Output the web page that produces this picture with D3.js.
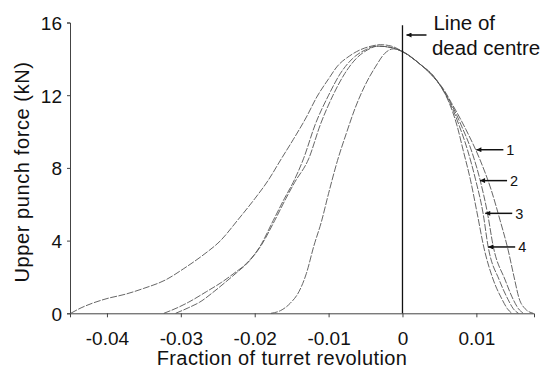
<!DOCTYPE html>
<html>
<head>
<meta charset="utf-8">
<script src="https://cdn.jsdelivr.net/npm/d3@7"></script>
<style>
  html, body { margin: 0; padding: 0; background: #fff; }
  svg { display: block; font-family: "Liberation Sans", Arial, sans-serif; }
</style>
</head>
<body>
<div id="chart"></div>
<script>
// axis ticks
const xTicks = [-0.04, -0.03, -0.02, -0.01, 0, 0.01];
const yTicks = [0, 4, 8, 12, 16];

// force traces [fraction of revolution, kN]
const curve1 = [[-0.0449,0],[-0.0435,0.3],[-0.042,0.55],[-0.040,0.81],[-0.0375,1.05],[-0.0351,1.36],[-0.032,1.85],[-0.0296,2.46],[-0.027,3.2],[-0.0246,4.01],[-0.0223,5.13],[-0.020,6.3],[-0.0182,7.3],[-0.0164,8.5],[-0.0148,9.55],[-0.013,10.8],[-0.0116,11.9],[-0.010,12.9],[-0.0088,13.6],[-0.0072,14.15],[-0.0057,14.5],[-0.004,14.72],[-0.003,14.78],[-0.0015,14.7],[0,14.4],[0.0024,13.7],[0.0042,13.0],[0.0056,12.3],[0.0066,11.6],[0.0077,10.8],[0.0086,10.1],[0.0105,8.44],[0.012,6.8],[0.0132,5.13],[0.0143,3.48],[0.0151,2.0],[0.0158,0.8],[0.0166,0.25],[0.0177,0]];
const curve2 = [[-0.0323,0],[-0.0305,0.3],[-0.029,0.6],[-0.0265,1.2],[-0.0245,1.7],[-0.0228,2.2],[-0.0211,2.75],[-0.0193,3.67],[-0.0175,5.1],[-0.016,6.3],[-0.0148,7.2],[-0.0134,8.5],[-0.0118,10.4],[-0.010,12.0],[-0.0084,13.2],[-0.0068,14.0],[-0.005,14.5],[-0.0035,14.7],[-0.002,14.65],[0,14.4],[0.0024,13.7],[0.0042,13.05],[0.0056,12.25],[0.0065,11.6],[0.008,10.3],[0.0093,8.99],[0.0105,7.34],[0.0115,5.52],[0.0123,3.65],[0.0139,1.83],[0.015,0.75],[0.0157,0.25],[0.0164,0]];
const curve3 = [[-0.0307,0],[-0.029,0.3],[-0.0275,0.6],[-0.0255,1.2],[-0.024,1.7],[-0.0224,2.25],[-0.0209,2.8],[-0.0191,3.75],[-0.0173,5.1],[-0.0158,6.3],[-0.0146,7.2],[-0.0127,8.5],[-0.0111,10.4],[-0.0094,12.0],[-0.0078,13.2],[-0.0063,14.0],[-0.0047,14.5],[-0.0033,14.7],[-0.0018,14.65],[0,14.4],[0.0024,13.7],[0.0042,13.05],[0.0056,12.2],[0.0064,11.6],[0.0077,10.3],[0.0088,8.99],[0.0099,7.34],[0.0109,5.52],[0.0116,3.65],[0.0131,1.83],[0.0143,0.75],[0.015,0.25],[0.0157,0]];
const curve4 = [[-0.0178,0],[-0.0165,0.15],[-0.0152,0.55],[-0.014,1.2],[-0.013,2.2],[-0.012,3.7],[-0.011,5.0],[-0.010,6.6],[-0.0088,8.4],[-0.0076,9.9],[-0.0064,11.3],[-0.005,12.6],[-0.0036,13.6],[-0.0024,14.3],[-0.0012,14.55],[0,14.4],[0.0024,13.7],[0.0042,13.0],[0.0056,12.2],[0.0063,11.6],[0.0074,10.3],[0.0082,8.99],[0.0092,7.34],[0.0101,5.52],[0.011,3.65],[0.0123,1.83],[0.0135,0.75],[0.0142,0.25],[0.0148,0]];

// curve number labels with arrows pointing at the traces
const arrowLabels = ["1", "2", "3", "4"];
const arrowY = [9.0, 7.3, 5.5, 3.65];
const arrowTipX = [0.0100, 0.0105, 0.0112, 0.0116];

// dead centre marker
const deadCentreX = 0;
const deadCentreTop = 15.85;
const deadCentreText = ["Line of", "dead centre"];

const width = 544, height = 371;

const svg = d3.select("#chart").append("svg")
  .attr("width", width)
  .attr("height", height);

const x = d3.scaleLinear().domain([-0.045, 0.0178]).range([70, 534]);
const y = d3.scaleLinear().domain([0, 16]).range([313.3, 22.5]);

// arrowhead, tip sits on the line end
svg.append("defs").append("marker")
  .attr("id", "head")
  .attr("viewBox", "0 0 10 10")
  .attr("refX", 10).attr("refY", 5)
  .attr("markerWidth", 6).attr("markerHeight", 5)
  .attr("markerUnits", "userSpaceOnUse")
  .attr("orient", "auto")
  .append("path")
  .attr("d", "M10,5 L0,0 L0,10 Z")
  .attr("fill", "#111");

// axes
const xAxis = svg.append("g")
  .attr("transform", `translate(0,${y(0)})`)
  .call(d3.axisBottom(x).tickValues(xTicks).tickSize(4).tickPadding(14)
    .tickFormat(d => d === 0 ? "0" : d3.format(".2f")(d).replace("−", "-")));

const yAxis = svg.append("g")
  .attr("transform", `translate(${x.range()[0]},0)`)
  .call(d3.axisLeft(y).tickValues(yTicks).tickSize(3).tickPadding(5));

[xAxis, yAxis].forEach(a => {
  a.select(".domain").attr("stroke", "#444").attr("stroke-width", 1);
  a.selectAll(".tick line").attr("stroke", "#444");
  a.selectAll(".tick text")
    .attr("fill", "#111")
    .attr("font-size", 19)
    .attr("font-family", "Liberation Sans, Arial, sans-serif");
});
yAxis.selectAll(".tick text").attr("dy", "0.36em");

// traces
const line = d3.line()
  .x(d => x(d[0]))
  .y(d => y(d[1]))
  .curve(d3.curveMonotoneX);

svg.append("g")
  .selectAll("path")
  .data([curve1, curve2, curve3, curve4])
  .enter()
  .append("path")
  .attr("d", line)
  .attr("fill", "none")
  .attr("stroke", "#555")
  .attr("stroke-width", 0.9)
  .attr("stroke-dasharray", "7,1.5");

// line of dead centre
svg.append("line")
  .attr("x1", x(deadCentreX)).attr("x2", x(deadCentreX))
  .attr("y1", y(0)).attr("y2", y(deadCentreTop))
  .attr("stroke", "#111")
  .attr("stroke-width", 1.3);

svg.append("line")
  .attr("x1", x(deadCentreX) + 24).attr("x2", x(deadCentreX) + 4)
  .attr("y1", 35).attr("y2", 35)
  .attr("stroke", "#111")
  .attr("stroke-width", 1.5)
  .attr("marker-end", "url(#head)");

svg.append("g")
  .selectAll("text")
  .data(deadCentreText)
  .enter()
  .append("text")
  .attr("x", (d, i) => x(deadCentreX) + 31 - i * 1.5)
  .attr("y", (d, i) => 30 + i * 25)
  .attr("font-size", 20.5)
  .attr("fill", "#111")
  .text(d => d);

// numbered arrows
const arr = svg.append("g")
  .selectAll("g")
  .data(arrowLabels)
  .enter()
  .append("g");

arr.append("line")
  .attr("x1", (d, i) => x(arrowTipX[i]) + 27)
  .attr("x2", (d, i) => x(arrowTipX[i]))
  .attr("y1", (d, i) => y(arrowY[i]))
  .attr("y2", (d, i) => y(arrowY[i]))
  .attr("stroke", "#111")
  .attr("stroke-width", 1.5)
  .attr("marker-end", "url(#head)");

arr.append("text")
  .attr("x", (d, i) => x(arrowTipX[i]) + 30)
  .attr("y", (d, i) => y(arrowY[i]))
  .attr("dy", "0.36em")
  .attr("font-size", 14.5)
  .attr("fill", "#111")
  .text(d => d);

// axis titles
svg.append("text")
  .attr("x", 282)
  .attr("y", 365)
  .attr("text-anchor", "middle")
  .attr("font-size", 20)
  .attr("letter-spacing", 0.4)
  .attr("fill", "#111")
  .text("Fraction of turret revolution");

svg.append("text")
  .attr("transform", "translate(29,172) rotate(-90)")
  .attr("text-anchor", "middle")
  .attr("font-size", 20)
  .attr("letter-spacing", 0.6)
  .attr("fill", "#111")
  .text("Upper punch force (kN)");
</script>
</body>
</html>
